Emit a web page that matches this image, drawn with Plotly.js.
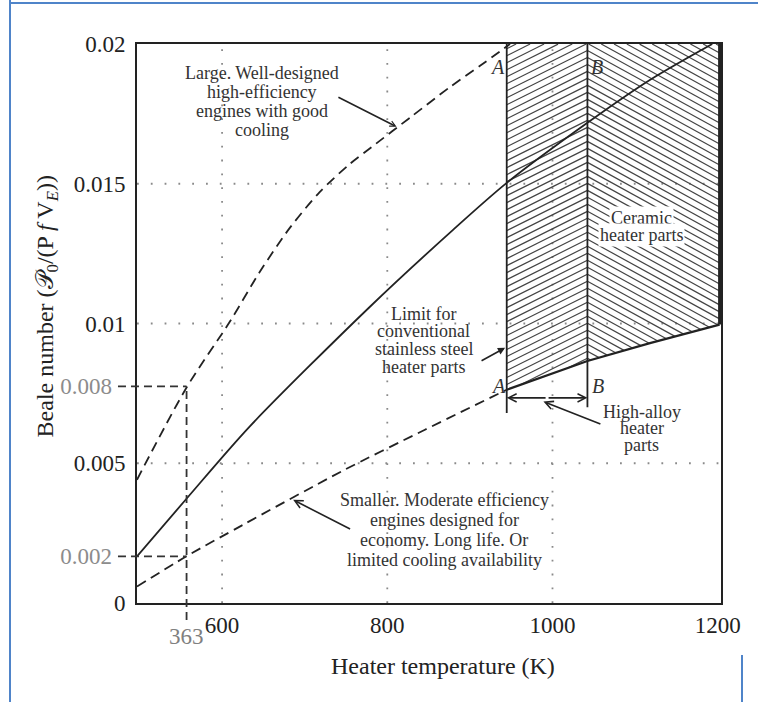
<!DOCTYPE html>
<html><head><meta charset="utf-8">
<script src="https://cdn.plot.ly/plotly-3.0.1.min.js"></script>
<style>
html,body{margin:0;padding:0;background:#fff;}
#chart{width:758px;height:702px;position:absolute;left:0;top:0;}
.frame{position:absolute;background:#4f84c9;}
</style></head><body>
<div id="chart"></div>
<div class="frame" style="left:9px;top:0;width:2px;height:702px"></div>
<div class="frame" style="left:9px;top:2px;width:749px;height:2px"></div>
<div class="frame" style="left:741px;top:655px;width:2px;height:47px"></div>
<script>
// ---------- data ----------
const xUpper = [497, 557.2, 609.3, 645.7, 682.0, 718.4, 754.7, 781.4, 828.6, 875.9, 912.3, 948.6];
const yUpper = [0.00441, 0.00772, 0.01006, 0.01185, 0.01342, 0.01471, 0.01571, 0.01632, 0.01739, 0.01846, 0.01922, 0.0200];
const xMiddle = [497, 556.9, 633.6, 779.0, 879.6, 944.6, 1042.3, 1118.3, 1193.4];
const yMiddle = [0.00167, 0.00373, 0.00632, 0.0106, 0.01335, 0.01503, 0.01718, 0.01872, 0.0200];
const xLower = [497, 556.9, 625.5, 744.7, 845.6, 944.6];
const yLower = [0.00059, 0.00167, 0.0028, 0.00471, 0.0062, 0.00763];
const xLimit = [944.6, 1042.3, 1118, 1202.3];
const yLimit = [0.00763, 0.00866, 0.0093, 0.00996];
const xA = 944.6, xB = 1042.3, yTop = 0.02;
const yLineBottomA = 0.0068, yLineBottomB = 0.0070, yDim = 0.00734;
const refX = 557, refYHigh = 0.00775, refYLow = 0.00167;
const xTickVals = [600, 800, 1000, 1200];
const xTickText = ['600', '800', '1000', '1200'];
const yTickVals = [0, refYLow, 0.005, refYHigh, 0.01, 0.015, 0.02];
const yTickText = ['0', '0.002', '0.005', '0.008', '0.01', '0.015', '0.02'];
const yTickGray = [false, true, false, true, false, false, false];
const xGrid = [600, 800, 1000];
const yGrid = [0.005, 0.01, 0.015];
const refLabel = '363';

const labelLarge = ['Large. Well-designed', 'high-efficiency', 'engines with good', 'cooling'];
const labelSmall = ['Smaller. Moderate efficiency', 'engines designed for', 'economy. Long life. Or', 'limited cooling availability'];
const labelLimit = ['Limit for', 'conventional', 'stainless steel', 'heater parts'];
const labelCeramic = ['Ceramic', 'heater parts'];
const labelAlloy = ['High-alloy', 'heater', 'parts'];

// ---------- layout geometry ----------
const W = 758, H = 702;
const M = {l: 137.3, r: 37.3, t: 44, b: 98.7};
const plotW = W - M.l - M.r, plotH = H - M.t - M.b;
const xRange = [497, 1204], yRange = [0, 0.02];
const FONT = 'Liberation Serif, DejaVu Serif, serif';
const INK = '#222';

function lerp(xs, ys, x) {
  if (x <= xs[0]) return ys[0];
  for (let i = 1; i < xs.length; i++) {
    if (x <= xs[i]) { const t = (x - xs[i-1]) / (xs[i] - xs[i-1]); return ys[i-1] + t * (ys[i] - ys[i-1]); }
  }
  return ys[ys.length - 1];
}
const kx = plotW / (xRange[1] - xRange[0]);
const ky = plotH / (yRange[1] - yRange[0]);
// hatch lines inside the region between the limit curve and the top, slope given in screen pixels (upwards positive)
function hatch(xStart, xEnd, slope, gap) {
  const X0 = (xStart - xRange[0]) * kx, X1 = (xEnd - xRange[0]) * kx;
  const Yt = (yTop - yRange[0]) * ky;
  const Ylo = Math.min(...yLimit) * ky;
  const cs = [Ylo - slope*X0, Ylo - slope*X1, Yt - slope*X0, Yt - slope*X1];
  const cMin = Math.min(...cs), cMax = Math.max(...cs);
  const ox = [], oy = [];
  const n = Math.ceil((X1 - X0) / 0.2);
  for (let c = cMin + gap/2; c <= cMax; c += gap) {
    let first = null, last = null;
    for (let i = 0; i <= n; i++) {
      const X = X0 + (X1 - X0) * i / n;
      const Y = c + slope * X;
      const x = X / kx + xRange[0], y = Y / ky + yRange[0];
      if (y >= lerp(xLimit, yLimit, x) && y <= yTop) { if (!first) first = [x, y]; last = [x, y]; }
    }
    if (first && last && last[0] - first[0] > 0.3) { ox.push(first[0], last[0], null); oy.push(first[1], last[1], null); }
  }
  return {x: ox, y: oy};
}

const hL = hatch(xA, xB, 0.5, 7);
const hR = hatch(xB, xLimit[xLimit.length-1], -0.55, 7);

const traces = [
  {x: hL.x, y: hL.y, mode: 'lines', line: {color: '#444', width: 1.2}, hoverinfo: 'skip', connectgaps: false},
  {x: hR.x, y: hR.y, mode: 'lines', line: {color: '#444', width: 1.2}, hoverinfo: 'skip', connectgaps: false},
  {x: xUpper, y: yUpper, mode: 'lines', line: {color: INK, width: 1.8, dash: '10px,6px', shape: 'spline', smoothing: 0.8}},
  {x: xMiddle, y: yMiddle, mode: 'lines', line: {color: INK, width: 1.8, shape: 'spline', smoothing: 0.8}},
  {x: xLower, y: yLower, mode: 'lines', line: {color: INK, width: 1.8, dash: '10px,6px', shape: 'spline', smoothing: 0.8}},
  {x: xLimit, y: yLimit, mode: 'lines', line: {color: INK, width: 2.2}},
  {x: [xA, xA], y: [yLineBottomA, yTop], mode: 'lines', line: {color: INK, width: 1.8}},
  {x: [xB, xB], y: [yLineBottomB, yTop], mode: 'lines', line: {color: INK, width: 1.8}},
  {x: [xLimit[xLimit.length-1], xLimit[xLimit.length-1]], y: [yLimit[yLimit.length-1], yTop], mode: 'lines', line: {color: INK, width: 3}}
];

const px = x => (x - xRange[0]) / (xRange[1] - xRange[0]);
const py = y => (y - yRange[0]) / (yRange[1] - yRange[0]);
const shapes = [];
xGrid.forEach(v => shapes.push({type: 'line', xref: 'x', yref: 'paper', x0: v, x1: v, y0: 0, y1: 1, layer: 'below', line: {color: '#8a8a8a', width: 1.8, dash: '1.8px,12px'}}));
yGrid.forEach(v => shapes.push({type: 'line', xref: 'paper', yref: 'y', x0: 0, x1: 1, y0: v, y1: v, layer: 'below', line: {color: '#8a8a8a', width: 1.8, dash: '1.8px,12px'}}));
const extL = -19 / plotW, extB = -17 / plotH;
[refYHigh, refYLow].forEach(v => shapes.push({type: 'line', xref: 'paper', yref: 'paper', x0: extL, x1: px(refX), y0: py(v), y1: py(v), line: {color: '#333', width: 1.8, dash: '8px,5px'}}));
shapes.push({type: 'line', xref: 'paper', yref: 'paper', x0: px(refX), x1: px(refX), y0: extB, y1: py(refYHigh), line: {color: '#333', width: 1.8, dash: '8px,5px'}});

const annotations = [];
function addLines(lines, x, y, spacing, bg) {
  lines.forEach((t, i) => annotations.push({
    x: x, y: y, xref: 'x', yref: 'y', text: t, showarrow: false, yshift: -i * spacing,
    xanchor: 'center', yanchor: 'middle', font: {family: FONT, size: 18, color: '#333'},
    bgcolor: bg ? '#fff' : 'rgba(0,0,0,0)', borderpad: bg ? 1 : 0
  }));
}
addLines(labelLarge, 648.7, 0.01895, 19, false);
addLines(labelSmall, 868.7, 0.00369, 20, false);
addLines(labelLimit, 844.4, 0.01035, 17.7, false);
addLines(labelCeramic, 1107.4, 0.01377, 17, true);
addLines(labelAlloy, 1108.2, 0.00685, 16.7, false);

function arrow(x, y, ax, ay, head, size) {
  annotations.push({x: x, y: y, ax: ax, ay: ay, xref: 'x', yref: 'y', axref: 'x', ayref: 'y', text: '',
    showarrow: true, arrowhead: head, arrowsize: size, arrowwidth: 1.6, arrowcolor: INK, standoff: 0, startstandoff: 0});
}
arrow(811.3, 0.01704, 739, 0.01812, 5, 0.7);
arrow(686, 0.00369, 756.8, 0.00262, 5, 1);
arrow(942.6, 0.00913, 912.3, 0.00864, 2, 0.9);
arrow(989, 0.00721, 1059.8, 0.00638, 5, 1);
const mid = (xA + xB) / 2;
arrow(xA, yDim, mid, yDim, 5, 1);
arrow(xB, yDim, mid, yDim, 5, 1);

function letter(t, x, y) {
  annotations.push({x: x, y: y, xref: 'x', yref: 'y', text: '<i>' + t + '</i>', showarrow: false,
    font: {family: FONT, size: 20, color: '#333'}, xanchor: 'center', yanchor: 'middle'});
}
letter('A', 934, 0.01916); letter('B', 1054, 0.01916);
letter('A', 935, 0.00775); letter('B', 1055, 0.00775);

annotations.push({x: refX, y: 0, xref: 'x', yref: 'paper', yshift: -33, text: refLabel, showarrow: false,
  font: {family: FONT, size: 23, color: '#808080'}, xanchor: 'center', yanchor: 'middle'});
annotations.push({x: 0.5, y: 0, xref: 'paper', yref: 'paper', xshift: 443 - (M.l + plotW/2), yshift: -(666 - (H - M.b)),
  text: 'Heater temperature (K)', showarrow: false, font: {family: FONT, size: 24, color: INK}, xanchor: 'center', yanchor: 'middle'});
annotations.push({x: 0, y: 0, xref: 'paper', yref: 'paper', xshift: 47 - M.l, yshift: (H - M.b) - 307, textangle: -90,
  text: 'Beale number (𝒫<sub>0</sub>/(P <i>f</i> V<sub><i>E</i></sub>))', showarrow: false,
  font: {family: FONT, size: 24, color: INK}, xanchor: 'center', yanchor: 'middle'});

const ytt = yTickText.map((t, i) => yTickGray[i] ? '<span style="color:#8c8c8c">' + t + '</span>\u00a0\u00a0\u200a' : t);

const layout = {
  width: W, height: H, margin: M, paper_bgcolor: '#fff', plot_bgcolor: '#fff', showlegend: false,
  font: {family: FONT, color: INK},
  xaxis: {range: xRange, tickvals: xTickVals, ticktext: xTickText, showgrid: false, zeroline: false,
    showline: true, mirror: true, linecolor: INK, linewidth: 2, ticks: '', ticklabelstandoff: 0,
    tickfont: {family: FONT, size: 23, color: INK}},
  yaxis: {range: yRange, tickvals: yTickVals, ticktext: ytt, showgrid: false, zeroline: false,
    showline: true, mirror: true, linecolor: INK, linewidth: 2, ticks: '', ticklabelstandoff: 5,
    tickfont: {family: FONT, size: 23, color: INK}},
  shapes: shapes, annotations: annotations
};
Plotly.newPlot('chart', traces, layout, {displayModeBar: false, staticPlot: true});
</script>
</body></html>
